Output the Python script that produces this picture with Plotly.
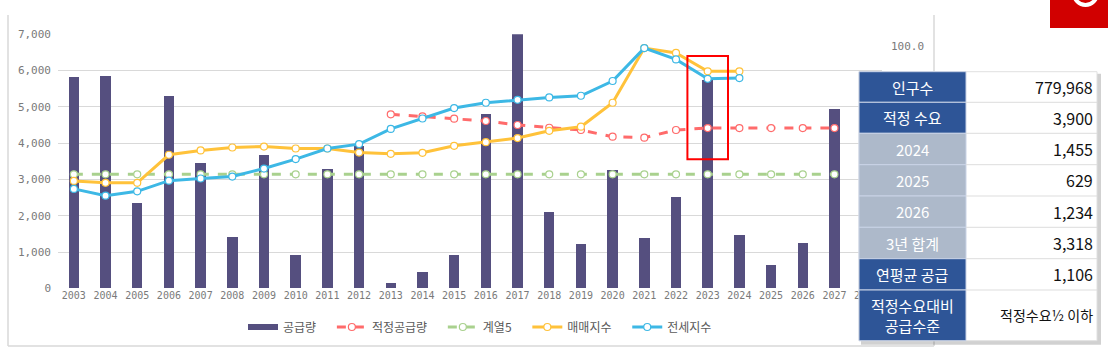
import plotly.graph_objects as go

# ---------------- data ----------------
years = list(range(2003, 2028))
supply = [5820, 5850, 2350, 5280, 3435, 1405, 3665, 918, 3287, 3921, 127, 441, 918,
          4803, 7000, 2094, 1212, 3260, 1378, 2516, 5740, 1455, 629, 1234, 4941]
proper_years = list(range(2013, 2028))
proper_supply = [4795, 4740, 4675, 4610, 4500, 4425, 4362, 4178, 4150, 4362, 4417,
                 4417, 4417, 4417, 4417]
series5 = [3141] * 25
index_years = list(range(2003, 2025))
sale_index = [44.4, 43.6, 43.6, 55.2, 57.0, 58.2, 58.6, 57.8, 57.8, 56.1, 55.6, 56.0,
              58.9, 60.4, 62.1, 65.1, 66.8, 76.7, 99.3, 97.3, 89.7, 89.7]
jeonse_index = [41.1, 38.3, 40.1, 44.5, 45.4, 46.2, 49.5, 53.4, 57.8, 59.6, 65.9, 70.2,
                74.5, 76.7, 77.9, 78.9, 79.6, 85.7, 99.3, 94.6, 86.6, 86.9]
axis_years = list(range(2003, 2029))
right_ticks = [100]

table_labels = ["인구수", "적정 수요", "2024", "2025", "2026", "3년 합계", "연평균 공급",
                "적정수요대비<br>공급수준"]
table_values = ["779,968", "3,900", "1,455", "629", "1,234", "3,318", "1,106", "적정수요½ 이하"]
table_label_dark = [True, True, False, False, False, False, True, True]

# ---------------- styling ----------------
W, H = 1108, 352
def px(x):
    return x / W
def py(y):
    return 1 - y / H

BAR = "#554F7F"
RED = "#FF6B6B"
GREEN = "#A9D18E"
YEL = "#FFC23A"
BLUE = "#3DB8E5"
GRID = "#D9D9D9"
TICK = "#7A7A7A"
MONO = "DejaVu Sans Mono"
KR = "Noto Sans CJK KR"
PAD = "\u00a0\u00a0\u00a0\u00a0"

fig = go.Figure()

fig.add_trace(go.Bar(x=years, y=supply, marker=dict(color=BAR, line=dict(width=0)),
                     width=0.33, name="공급량", showlegend=False))
# legend entry for bars (thick line as in the original legend)
fig.add_trace(go.Scatter(x=[None], y=[None], mode="lines", name="공급량" + PAD,
                         line=dict(color=BAR, width=6)))
mk = dict(symbol="circle", size=7, color="white")
fig.add_trace(go.Scatter(x=proper_years, y=proper_supply, mode="lines+markers", name="적정공급량" + PAD,
                         line=dict(color=RED, width=3, dash="dash"),
                         marker=dict(**mk, line=dict(color=RED, width=1.2))))
fig.add_trace(go.Scatter(x=years, y=series5, mode="lines+markers", name="계열5" + PAD,
                         line=dict(color=GREEN, width=3, dash="dash"),
                         marker=dict(**mk, line=dict(color=GREEN, width=1.2))))
fig.add_trace(go.Scatter(x=index_years, y=sale_index, mode="lines+markers", name="매매지수" + PAD,
                         yaxis="y2", line=dict(color=YEL, width=3),
                         marker=dict(**mk, line=dict(color=YEL, width=1.2))))
fig.add_trace(go.Scatter(x=index_years, y=jeonse_index, mode="lines+markers", name="전세지수",
                         yaxis="y2", line=dict(color=BLUE, width=3),
                         marker=dict(**mk, line=dict(color=BLUE, width=1.2))))

shapes = []
annotations = []

# chart frame lines
shapes.append(dict(type="line", xref="paper", yref="paper", x0=px(8), x1=px(8), y0=py(15), y1=py(346),
                   line=dict(color=GRID, width=1.5), layer="below"))
shapes.append(dict(type="line", xref="paper", yref="paper", x0=px(8), x1=px(934), y0=py(346), y1=py(346),
                   line=dict(color=GRID, width=1.5), layer="below"))
shapes.append(dict(type="line", xref="paper", yref="paper", x0=px(934), x1=px(934), y0=py(15), y1=py(346),
                   line=dict(color=GRID, width=1.5), layer="below"))

# red highlight box around 2023
shapes.append(dict(type="rect", xref="x", yref="y", x0=2023 - 0.64, x1=2023 + 0.64, y0=3555, y1=6400,
                   line=dict(color="#FF0000", width=2), fillcolor="rgba(0,0,0,0)"))

# red badge top right
shapes.append(dict(type="rect", xref="paper", yref="paper", x0=px(1050), x1=px(1108), y0=py(28), y1=py(-5),
                   line=dict(width=0), fillcolor="#D10000"))
shapes.append(dict(type="circle", xref="paper", yref="paper", x0=px(1074), x1=px(1097), y0=py(5), y1=py(-18),
                   line=dict(color="white", width=4), fillcolor="rgba(0,0,0,0)"))

# table
tx0, tx_mid, tx1 = 859, 966, 1097
row_edges = [71.7, 102.3, 133.3, 164.7, 196, 227.3, 258.7, 290, 340.7]
# shadow
shapes.append(dict(type="rect", xref="paper", yref="paper", x0=px(tx0 + 2), x1=px(tx1 + 4),
                   y0=py(row_edges[-1] + 4), y1=py(row_edges[0] + 2),
                   line=dict(width=0), fillcolor="rgba(0,0,0,0.18)"))
shapes.append(dict(type="rect", xref="paper", yref="paper", x0=px(tx0), x1=px(tx1),
                   y0=py(row_edges[-1]), y1=py(row_edges[0]),
                   line=dict(color="#E0E0E0", width=1), fillcolor="white"))
for i, lab in enumerate(table_labels):
    y0, y1 = row_edges[i], row_edges[i + 1]
    col = "#2E5597" if table_label_dark[i] else "#ADB9CA"
    shapes.append(dict(type="rect", xref="paper", yref="paper", x0=px(tx0), x1=px(tx_mid),
                       y0=py(y1), y1=py(y0), line=dict(color="#C9D3E6", width=1), fillcolor=col))
    if i > 0:
        shapes.append(dict(type="line", xref="paper", yref="paper", x0=px(tx_mid), x1=px(tx1),
                           y0=py(y0), y1=py(y0), line=dict(color="#DDDDDD", width=1)))
    cy = (y0 + y1) / 2
    annotations.append(dict(xref="paper", yref="paper", x=px((tx0 + tx_mid) / 2), y=py(cy),
                            text=lab, showarrow=False, xanchor="center", yanchor="middle",
                            font=dict(family=KR, size=15, color="white")))
    annotations.append(dict(xref="paper", yref="paper", x=px(1095), y=py(cy),
                            text=table_values[i], showarrow=False, xanchor="right", yanchor="middle",
                            font=dict(family=KR, size=16 if i < 7 else 14, color="#111111")))

fig.update_layout(
    width=W, height=H,
    margin=dict(l=0, r=0, t=0, b=0),
    paper_bgcolor="white", plot_bgcolor="white",
    bargap=0,
    xaxis=dict(domain=[px(58), px(882)], range=[2002.5, 2028.5], tickvals=axis_years,
               ticktext=[str(y) for y in axis_years], showgrid=False, zeroline=False, showline=False,
               tickfont=dict(family=MONO, size=10, color=TICK), ticks="", automargin=False,
               tickangle=0),
    yaxis=dict(domain=[py(288.3), py(34.3)], range=[0, 7000], dtick=1000, tickformat=",",
               showgrid=True, gridcolor=GRID, gridwidth=1, zeroline=False, showline=False,
               tickfont=dict(family=MONO, size=11, color=TICK), ticks="", automargin=False,
               ticklabelstandoff=6),
    yaxis2=dict(overlaying="y", side="right", range=[0, 105], tickvals=right_ticks,
                tickformat=".1f", showgrid=False, zeroline=False, showline=False,
                tickfont=dict(family=MONO, size=11, color=TICK), ticks="", automargin=False,
                ticklabelstandoff=8),
    legend=dict(orientation="h", xref="paper", yref="paper", x=px(480), y=py(327),
                xanchor="center", yanchor="middle", font=dict(family=KR, size=12, color="#595959"),
                bgcolor="rgba(0,0,0,0)", traceorder="normal"),
    shapes=shapes,
    annotations=annotations,
)

fig.write_html("out.html")
